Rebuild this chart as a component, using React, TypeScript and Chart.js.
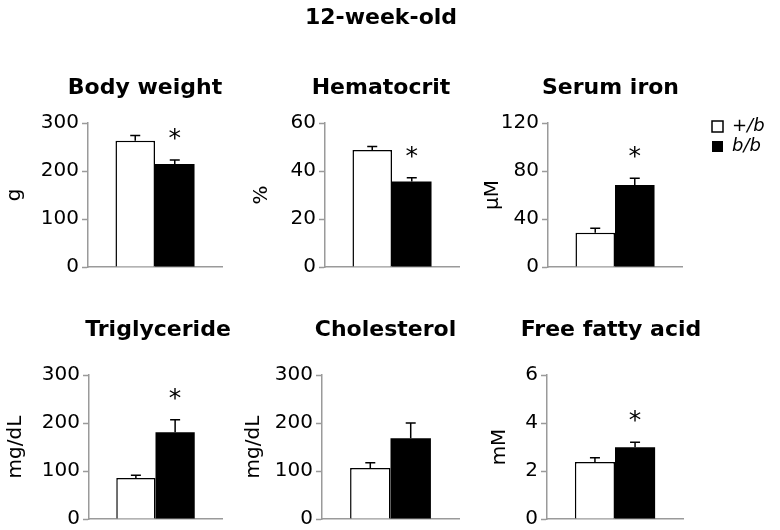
import React, { useEffect, useRef } from 'react';
import { Chart, registerables } from 'chart.js';

Chart.register(...registerables);

// ---------- data ----------
const FIGURE_TITLE = '12-week-old';
const GROUPS = ['+/b', 'b/b'];
const PANEL_TITLES = ['Body weight', 'Hematocrit', 'Serum iron', 'Triglyceride', 'Cholesterol', 'Free fatty acid'];
const UNITS = ['g', '%', 'μM', 'mg/dL', 'mg/dL', 'mM'];
const Y_MAX = [300, 60, 120, 300, 300, 6];
const Y_STEP = [100, 20, 40, 100, 100, 2];
const HET_MEAN = [263, 48.7, 28.6, 85.5, 106, 2.37];
const HET_SEM = [11, 1.5, 3.6, 5.5, 11, 0.18];
const HOM_MEAN = [214.6, 35.6, 68.3, 180.6, 168, 2.99];
const HOM_SEM = [8.5, 1.6, 5.6, 26, 32, 0.21];
const SIGNIFICANT = [true, true, true, true, false, true];

// ---------- layout (pixels) ----------
type Box = {
  left: number; top: number; width: number; height: number;
  axisW: number; rightW: number; tTop: number; tBot: number; yTitlePad: number;
};
const LAYOUT: Box[] = [
  { left: 0, top: 60, width: 290, height: 222, axisW: 88, rightW: 68, tTop: 15.3, tBot: 21.3, yTitlePad: 3 },
  { left: 240, top: 0, width: 282, height: 282, axisW: 85, rightW: 63, tTop: 5.3, tBot: 0, yTitlePad: 9.5 },
  { left: 451, top: 60, width: 319, height: 222, axisW: 97, rightW: 28, tTop: 15.3, tBot: 21.3, yTitlePad: 30 },
  { left: 0, top: 300, width: 316, height: 234, axisW: 89, rightW: 94, tTop: 17.3, tBot: 31.3, yTitlePad: 3.4 },
  { left: 240, top: 300, width: 291, height: 234, axisW: 82, rightW: 72, tTop: 17.3, tBot: 31.3, yTitlePad: 2 },
  { left: 470, top: 300, width: 282, height: 234, axisW: 77, rightW: 69, tTop: 17.3, tBot: 31.3, yTitlePad: 18 },
];
const SUBTITLE_PAD = { top: 43.6, bottom: 21.3 };
const FONT = '"DejaVu Sans", "Liberation Sans", Arial, sans-serif';
const AXIS_GREY = '#9a9a9a';
const TITLE_SIZE = 22;
const TICK_SIZE = 20;

function makeErrorPlugin(errors: number[], star: boolean) {
  return {
    id: 'errorBarsAndStar',
    afterDatasetsDraw(chart: any) {
      const { ctx } = chart;
      const yScale = chart.scales.y;
      ctx.save();
      ctx.strokeStyle = '#000';
      ctx.lineWidth = 1.5;
      let lastTop = 0;
      let lastX = 0;
      chart.data.datasets.forEach((ds: any, i: number) => {
        const meta = chart.getDatasetMeta(i);
        meta.data.forEach((bar: any, j: number) => {
          const v = ds.data[j] as number;
          const yBar = yScale.getPixelForValue(v);
          const yTop = yScale.getPixelForValue(v + errors[i]);
          ctx.beginPath();
          ctx.moveTo(bar.x, yBar);
          ctx.lineTo(bar.x, yTop);
          ctx.moveTo(bar.x - 5, yTop);
          ctx.lineTo(bar.x + 5, yTop);
          ctx.stroke();
          lastTop = yTop;
          lastX = bar.x;
        });
      });
      if (star) {
        ctx.fillStyle = '#000';
        ctx.font = `25px ${FONT}`;
        ctx.textAlign = 'center';
        ctx.textBaseline = 'alphabetic';
        ctx.fillText('*', lastX, lastTop - 29 + 15);
      }
      ctx.restore();
    },
  };
}

function Panel({ idx }: { idx: number }) {
  const ref = useRef<HTMLCanvasElement | null>(null);
  const box = LAYOUT[idx];
  useEffect(() => {
    if (!ref.current) return;
    const isMain = idx === 1;
    const hasLegend = idx === 2;
    const chart = new Chart(ref.current, {
      type: 'bar',
      data: {
        labels: [''],
        datasets: [
          {
            label: GROUPS[0],
            data: [HET_MEAN[idx]],
            backgroundColor: '#ffffff',
            borderColor: '#000000',
            borderWidth: 1.5,
          },
          {
            label: GROUPS[1],
            data: [HOM_MEAN[idx]],
            backgroundColor: '#000000',
            borderColor: '#000000',
            borderWidth: 0,
          },
        ],
      },
      options: {
        responsive: false,
        animation: false,
        devicePixelRatio: 1,
        events: [],
        layout: { padding: { left: 0, right: 0, top: 0, bottom: 14 } },
        datasets: { bar: { categoryPercentage: 0.59, barPercentage: 1 } },
        plugins: {
          tooltip: { enabled: false },
          title: {
            display: true,
            text: isMain ? FIGURE_TITLE : PANEL_TITLES[idx],
            color: '#000',
            font: { family: FONT, size: TITLE_SIZE, weight: 'bold', lineHeight: 1.2 },
            padding: { top: box.tTop, bottom: box.tBot },
          },
          subtitle: {
            display: isMain,
            text: PANEL_TITLES[idx],
            color: '#000',
            font: { family: FONT, size: TITLE_SIZE, weight: 'bold', lineHeight: 1.2 },
            padding: SUBTITLE_PAD,
          },
          legend: hasLegend
            ? {
                display: true,
                position: 'right',
                align: 'start',
                fullSize: true,
                maxWidth: 60,
                title: { display: true, text: '', font: { size: 10, lineHeight: 1.2 }, padding: { top: 43.5, bottom: 0 } },
                labels: {
                  boxWidth: 11,
                  boxHeight: 11,
                  padding: 2,
                  color: '#000',
                  font: { family: FONT, size: 18, style: 'italic' },
                },
              }
            : { display: false },
        },
        scales: {
          x: {
            type: 'category',
            grid: { display: false, drawTicks: false },
            border: { display: true, color: AXIS_GREY, width: 1.5 },
            ticks: { display: false },
            afterFit: (s: any) => { s.height = 0; },
          },
          y: {
            type: 'linear',
            position: 'left',
            min: 0,
            max: Y_MAX[idx],
            ticks: {
              stepSize: Y_STEP[idx],
              color: '#000',
              padding: 3,
              font: { family: FONT, size: TICK_SIZE },
            },
            grid: { display: true, drawOnChartArea: false, drawTicks: true, tickLength: 6, tickColor: AXIS_GREY, tickWidth: 1.5 },
            border: { display: true, color: AXIS_GREY, width: 1.5 },
            title: {
              display: true,
              text: UNITS[idx],
              color: '#000',
              font: { family: FONT, size: TICK_SIZE, lineHeight: 1.2 },
              padding: { top: box.yTitlePad, bottom: 0 },
            },
            afterFit: (s: any) => { s.width = box.axisW; },
          },
          spacer: {
            type: 'linear',
            axis: 'y',
            position: 'right',
            display: true,
            grid: { display: false, drawTicks: false },
            border: { display: false },
            ticks: { display: false },
            afterFit: (s: any) => { s.width = box.rightW; },
          },
        },
      } as any,
      plugins: [makeErrorPlugin([HET_SEM[idx], HOM_SEM[idx]], SIGNIFICANT[idx])],
    });
    return () => chart.destroy();
  }, [idx]);
  return (
    <canvas
      ref={ref}
      width={box.width}
      height={box.height}
      style={{ position: 'absolute', left: box.left, top: box.top }}
    />
  );
}

export default function App() {
  return (
    <div style={{ position: 'absolute', left: 0, top: 0, width: 780, height: 530, background: '#fff', overflow: 'hidden' }}>
      {PANEL_TITLES.map((_, i) => (
        <Panel key={i} idx={i} />
      ))}
    </div>
  );
}
